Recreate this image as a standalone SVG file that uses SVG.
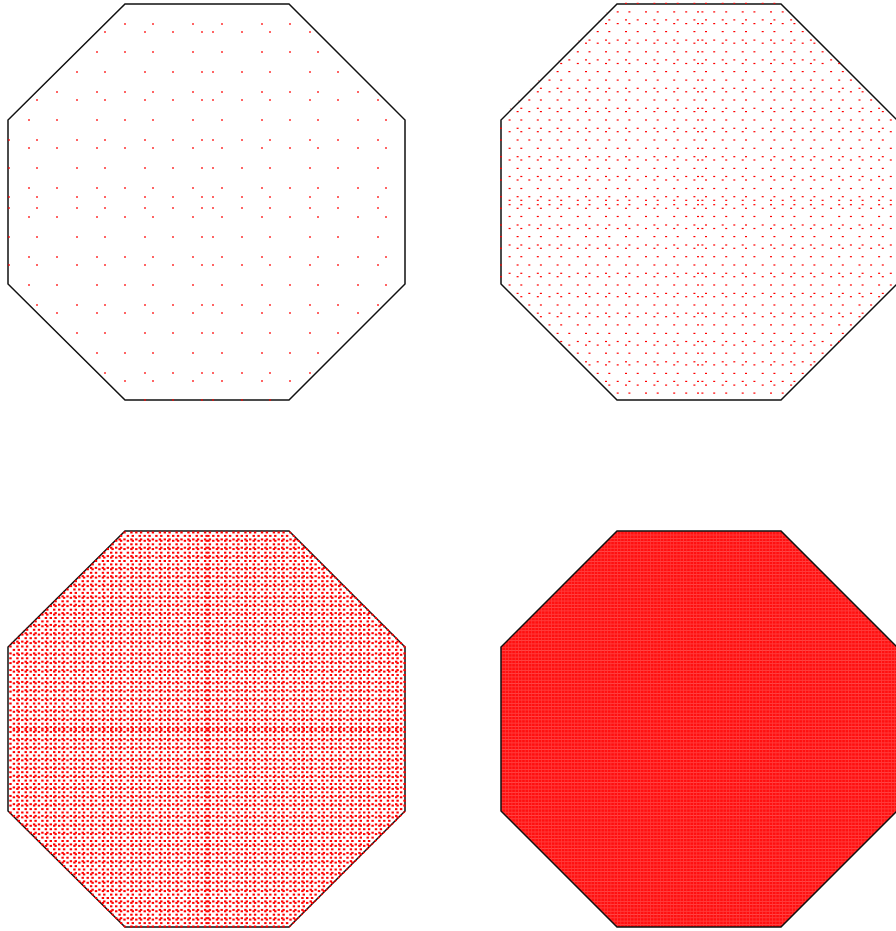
<svg xmlns="http://www.w3.org/2000/svg" xmlns:xlink="http://www.w3.org/1999/xlink" width="896" height="931" viewBox="0 0 896 931">
<style>
.oct{fill:none;stroke:#111;stroke-width:1.5}
.d rect{fill:#ff0000}
.e rect{fill:#ff0000}
</style>
<defs>
<clipPath id="c1"><polygon points="124.6,3 289.4,3 406,119.6 406,284.4 289.4,401 124.6,401 7,284.4 7,119.6"/></clipPath>
<clipPath id="c2"><polygon points="616.6,2.4 781.4,2.4 898,118.6 898,284.4 781.4,401 616.6,401 500,284.4 500,118.6"/></clipPath>
<clipPath id="c3"><polygon points="124.6,530.4 289.4,530.4 406,646.6 406,811.4 289.4,928 124.6,928 7,811.4 7,646.6"/></clipPath>
<g id="rA1" class="d">
<rect x="8" y="-0.6" width="2" height="1.2"/><rect x="36" y="-0.6" width="2" height="1.2"/><rect x="76" y="-0.6" width="2" height="1.2"/><rect x="104" y="-0.6" width="2" height="1.2"/><rect x="144" y="-0.6" width="2" height="1.2"/><rect x="172" y="-0.6" width="2" height="1.2"/><rect x="201" y="-0.6" width="2" height="1.2"/><rect x="212" y="-0.6" width="2" height="1.2"/><rect x="241" y="-0.6" width="2" height="1.2"/><rect x="269" y="-0.6" width="2" height="1.2"/><rect x="309" y="-0.6" width="2" height="1.2"/><rect x="337" y="-0.6" width="2" height="1.2"/><rect x="377" y="-0.6" width="2" height="1.2"/>
</g>
<g id="rB1" class="d">
<rect x="28" y="-0.6" width="2" height="1.2"/><rect x="56" y="-0.6" width="2" height="1.2"/><rect x="96" y="-0.6" width="2" height="1.2"/><rect x="124" y="-0.6" width="2" height="1.2"/><rect x="152" y="-0.6" width="2" height="1.2"/><rect x="192" y="-0.6" width="2" height="1.2"/><rect x="221" y="-0.6" width="2" height="1.2"/><rect x="261" y="-0.6" width="2" height="1.2"/><rect x="289" y="-0.6" width="2" height="1.2"/><rect x="317" y="-0.6" width="2" height="1.2"/><rect x="357" y="-0.6" width="2" height="1.2"/><rect x="385" y="-0.6" width="2" height="1.2"/>
</g>
<g id="rP2" class="d">
<rect x="499.9" y="-0.6" width="2" height="1.2"/><rect x="516.6" y="-0.6" width="2" height="1.2"/><rect x="528.3" y="-0.6" width="2" height="1.2"/><rect x="539.9" y="-0.6" width="2" height="1.2"/><rect x="556.6" y="-0.6" width="2" height="1.2"/><rect x="568.3" y="-0.6" width="2" height="1.2"/><rect x="585" y="-0.6" width="2" height="1.2"/><rect x="596.7" y="-0.6" width="2" height="1.2"/><rect x="608.3" y="-0.6" width="2" height="1.2"/><rect x="625" y="-0.6" width="2" height="1.2"/><rect x="636.7" y="-0.6" width="2" height="1.2"/><rect x="653.4" y="-0.6" width="2" height="1.2"/><rect x="665.1" y="-0.6" width="2" height="1.2"/><rect x="676.7" y="-0.6" width="2" height="1.2"/><rect x="693.4" y="-0.6" width="2" height="1.2"/><rect x="705" y="-0.6" width="2" height="1.2"/><rect x="721.7" y="-0.6" width="2" height="1.2"/><rect x="733.3" y="-0.6" width="2" height="1.2"/><rect x="745" y="-0.6" width="2" height="1.2"/><rect x="761.7" y="-0.6" width="2" height="1.2"/><rect x="773.4" y="-0.6" width="2" height="1.2"/><rect x="790.1" y="-0.6" width="2" height="1.2"/><rect x="801.7" y="-0.6" width="2" height="1.2"/><rect x="813.4" y="-0.6" width="2" height="1.2"/><rect x="830.1" y="-0.6" width="2" height="1.2"/><rect x="841.8" y="-0.6" width="2" height="1.2"/><rect x="858.5" y="-0.6" width="2" height="1.2"/><rect x="870.1" y="-0.6" width="2" height="1.2"/><rect x="881.8" y="-0.6" width="2" height="1.2"/>
</g>
<g id="rQ2" class="d">
<rect x="508.6" y="-0.6" width="2" height="1.2"/><rect x="520.3" y="-0.6" width="2" height="1.2"/><rect x="536.8" y="-0.6" width="2" height="1.2"/><rect x="548.5" y="-0.6" width="2" height="1.2"/><rect x="560.2" y="-0.6" width="2" height="1.2"/><rect x="576.8" y="-0.6" width="2" height="1.2"/><rect x="588.5" y="-0.6" width="2" height="1.2"/><rect x="605" y="-0.6" width="2" height="1.2"/><rect x="616.7" y="-0.6" width="2" height="1.2"/><rect x="628.4" y="-0.6" width="2" height="1.2"/><rect x="645" y="-0.6" width="2" height="1.2"/><rect x="656.7" y="-0.6" width="2" height="1.2"/><rect x="673.2" y="-0.6" width="2" height="1.2"/><rect x="685.2" y="-0.6" width="2" height="1.2"/><rect x="697" y="-0.6" width="2" height="1.2"/><rect x="701.4" y="-0.6" width="2" height="1.2"/><rect x="713.2" y="-0.6" width="2" height="1.2"/><rect x="725.2" y="-0.6" width="2" height="1.2"/><rect x="741.7" y="-0.6" width="2" height="1.2"/><rect x="753.4" y="-0.6" width="2" height="1.2"/><rect x="770" y="-0.6" width="2" height="1.2"/><rect x="781.7" y="-0.6" width="2" height="1.2"/><rect x="793.4" y="-0.6" width="2" height="1.2"/><rect x="809.9" y="-0.6" width="2" height="1.2"/><rect x="821.6" y="-0.6" width="2" height="1.2"/><rect x="838.2" y="-0.6" width="2" height="1.2"/><rect x="849.9" y="-0.6" width="2" height="1.2"/><rect x="861.6" y="-0.6" width="2" height="1.2"/><rect x="878.1" y="-0.6" width="2" height="1.2"/><rect x="889.8" y="-0.6" width="2" height="1.2"/>
</g>
<g id="rP3" class="e">
<rect x="9.3" y="-1" width="2.4" height="2"/><rect x="16.2" y="-1" width="2.4" height="2"/><rect x="21.1" y="-1" width="2.4" height="2"/><rect x="25.9" y="-1" width="2.4" height="2"/><rect x="32.9" y="-1" width="2.4" height="2"/><rect x="37.8" y="-1" width="2.4" height="2"/><rect x="44.7" y="-1" width="2.4" height="2"/><rect x="49.6" y="-1" width="2.4" height="2"/><rect x="54.4" y="-1" width="2.4" height="2"/><rect x="61.4" y="-1" width="2.4" height="2"/><rect x="66.3" y="-1" width="2.4" height="2"/><rect x="73.2" y="-1" width="2.4" height="2"/><rect x="78.1" y="-1" width="2.4" height="2"/><rect x="82.9" y="-1" width="2.4" height="2"/><rect x="89.9" y="-1" width="2.4" height="2"/><rect x="94.8" y="-1" width="2.4" height="2"/><rect x="101.7" y="-1" width="2.4" height="2"/><rect x="106.6" y="-1" width="2.4" height="2"/><rect x="111.4" y="-1" width="2.4" height="2"/><rect x="118.4" y="-1" width="2.4" height="2"/><rect x="123.3" y="-1" width="2.4" height="2"/><rect x="130.2" y="-1" width="2.4" height="2"/><rect x="135.1" y="-1" width="2.4" height="2"/><rect x="139.9" y="-1" width="2.4" height="2"/><rect x="146.9" y="-1" width="2.4" height="2"/><rect x="151.7" y="-1" width="2.4" height="2"/><rect x="158.7" y="-1" width="2.4" height="2"/><rect x="163.6" y="-1" width="2.4" height="2"/><rect x="168.4" y="-1" width="2.4" height="2"/><rect x="175.4" y="-1" width="2.4" height="2"/><rect x="180.3" y="-1" width="2.4" height="2"/><rect x="187.2" y="-1" width="2.4" height="2"/><rect x="192.1" y="-1" width="2.4" height="2"/><rect x="196.9" y="-1" width="2.4" height="2"/><rect x="203.9" y="-1" width="2.4" height="2"/>
<rect x="208.7" y="-1" width="2.4" height="2"/><rect x="215.7" y="-1" width="2.4" height="2"/><rect x="220.5" y="-1" width="2.4" height="2"/><rect x="225.4" y="-1" width="2.4" height="2"/><rect x="232.3" y="-1" width="2.4" height="2"/><rect x="237.2" y="-1" width="2.4" height="2"/><rect x="244.2" y="-1" width="2.4" height="2"/><rect x="249" y="-1" width="2.4" height="2"/><rect x="253.9" y="-1" width="2.4" height="2"/><rect x="260.8" y="-1" width="2.4" height="2"/><rect x="265.7" y="-1" width="2.4" height="2"/><rect x="272.7" y="-1" width="2.4" height="2"/><rect x="277.5" y="-1" width="2.4" height="2"/><rect x="282.4" y="-1" width="2.4" height="2"/><rect x="289.3" y="-1" width="2.4" height="2"/><rect x="294.2" y="-1" width="2.4" height="2"/><rect x="301.2" y="-1" width="2.4" height="2"/><rect x="306" y="-1" width="2.4" height="2"/><rect x="310.9" y="-1" width="2.4" height="2"/><rect x="317.8" y="-1" width="2.4" height="2"/><rect x="322.7" y="-1" width="2.4" height="2"/><rect x="329.7" y="-1" width="2.4" height="2"/><rect x="334.5" y="-1" width="2.4" height="2"/><rect x="339.4" y="-1" width="2.4" height="2"/><rect x="346.3" y="-1" width="2.4" height="2"/><rect x="351.2" y="-1" width="2.4" height="2"/><rect x="358.2" y="-1" width="2.4" height="2"/><rect x="363" y="-1" width="2.4" height="2"/><rect x="367.9" y="-1" width="2.4" height="2"/><rect x="374.8" y="-1" width="2.4" height="2"/><rect x="379.7" y="-1" width="2.4" height="2"/><rect x="386.7" y="-1" width="2.4" height="2"/><rect x="391.5" y="-1" width="2.4" height="2"/><rect x="396.4" y="-1" width="2.4" height="2"/><rect x="403.3" y="-1" width="2.4" height="2"/>
</g>
<g id="rQ3" class="e">
<rect x="12.7" y="-1" width="2.4" height="2"/><rect x="17.6" y="-1" width="2.4" height="2"/><rect x="24.5" y="-1" width="2.4" height="2"/><rect x="29.5" y="-1" width="2.4" height="2"/><rect x="34.4" y="-1" width="2.4" height="2"/><rect x="41.2" y="-1" width="2.4" height="2"/><rect x="46.1" y="-1" width="2.4" height="2"/><rect x="53" y="-1" width="2.4" height="2"/><rect x="58" y="-1" width="2.4" height="2"/><rect x="62.9" y="-1" width="2.4" height="2"/><rect x="69.7" y="-1" width="2.4" height="2"/><rect x="74.6" y="-1" width="2.4" height="2"/><rect x="81.5" y="-1" width="2.4" height="2"/><rect x="86.5" y="-1" width="2.4" height="2"/><rect x="91.4" y="-1" width="2.4" height="2"/><rect x="98.2" y="-1" width="2.4" height="2"/><rect x="103.1" y="-1" width="2.4" height="2"/><rect x="110" y="-1" width="2.4" height="2"/><rect x="115" y="-1" width="2.4" height="2"/><rect x="119.9" y="-1" width="2.4" height="2"/><rect x="126.7" y="-1" width="2.4" height="2"/><rect x="131.6" y="-1" width="2.4" height="2"/><rect x="138.5" y="-1" width="2.4" height="2"/><rect x="143.5" y="-1" width="2.4" height="2"/><rect x="148.4" y="-1" width="2.4" height="2"/><rect x="155.2" y="-1" width="2.4" height="2"/><rect x="160.1" y="-1" width="2.4" height="2"/><rect x="167" y="-1" width="2.4" height="2"/><rect x="172" y="-1" width="2.4" height="2"/><rect x="176.9" y="-1" width="2.4" height="2"/><rect x="183.7" y="-1" width="2.4" height="2"/><rect x="188.6" y="-1" width="2.4" height="2"/><rect x="195.5" y="-1" width="2.4" height="2"/><rect x="200.5" y="-1" width="2.4" height="2"/><rect x="205.4" y="-1" width="2.4" height="2"/>
<rect x="207.2" y="-1" width="2.4" height="2"/><rect x="212.1" y="-1" width="2.4" height="2"/><rect x="217.1" y="-1" width="2.4" height="2"/><rect x="224" y="-1" width="2.4" height="2"/><rect x="228.9" y="-1" width="2.4" height="2"/><rect x="235.7" y="-1" width="2.4" height="2"/><rect x="240.6" y="-1" width="2.4" height="2"/><rect x="245.6" y="-1" width="2.4" height="2"/><rect x="252.5" y="-1" width="2.4" height="2"/><rect x="257.4" y="-1" width="2.4" height="2"/><rect x="264.2" y="-1" width="2.4" height="2"/><rect x="269.1" y="-1" width="2.4" height="2"/><rect x="274.1" y="-1" width="2.4" height="2"/><rect x="281" y="-1" width="2.4" height="2"/><rect x="285.9" y="-1" width="2.4" height="2"/><rect x="292.7" y="-1" width="2.4" height="2"/><rect x="297.6" y="-1" width="2.4" height="2"/><rect x="302.6" y="-1" width="2.4" height="2"/><rect x="309.5" y="-1" width="2.4" height="2"/><rect x="314.4" y="-1" width="2.4" height="2"/><rect x="321.2" y="-1" width="2.4" height="2"/><rect x="326.1" y="-1" width="2.4" height="2"/><rect x="331.1" y="-1" width="2.4" height="2"/><rect x="338" y="-1" width="2.4" height="2"/><rect x="342.9" y="-1" width="2.4" height="2"/><rect x="349.7" y="-1" width="2.4" height="2"/><rect x="354.6" y="-1" width="2.4" height="2"/><rect x="359.6" y="-1" width="2.4" height="2"/><rect x="366.5" y="-1" width="2.4" height="2"/><rect x="371.4" y="-1" width="2.4" height="2"/><rect x="378.2" y="-1" width="2.4" height="2"/><rect x="383.1" y="-1" width="2.4" height="2"/><rect x="388.1" y="-1" width="2.4" height="2"/><rect x="395" y="-1" width="2.4" height="2"/><rect x="399.9" y="-1" width="2.4" height="2"/>
</g>
<pattern id="p4" patternUnits="userSpaceOnUse" x="0" y="0" width="3.3" height="3.3">
<rect x="0" y="0" width="3.3" height="3.3" fill="#ff1010"/>
<rect x="0" y="0" width="3.3" height="0.7" fill="#ff5050"/>
<rect x="0" y="0" width="0.7" height="3.3" fill="#ff3a3a"/>
</pattern>
</defs>

<g id="octagon-1">
<polygon class="oct" points="125,4 289,4 405,120 405,284 289,400 125,400 8,284 8,120"/>
<g clip-path="url(#c1)">
<use href="#rA1" y="32"/><use href="#rA1" y="72"/><use href="#rA1" y="100"/><use href="#rA1" y="140"/><use href="#rA1" y="168"/><use href="#rA1" y="197"/><use href="#rA1" y="208"/><use href="#rA1" y="237"/><use href="#rA1" y="265"/><use href="#rA1" y="305"/><use href="#rA1" y="333"/><use href="#rA1" y="373"/><use href="#rA1" y="400"/>
<use href="#rB1" y="24"/><use href="#rB1" y="52"/><use href="#rB1" y="92"/><use href="#rB1" y="120"/><use href="#rB1" y="148"/><use href="#rB1" y="188"/><use href="#rB1" y="217"/><use href="#rB1" y="257"/><use href="#rB1" y="285"/><use href="#rB1" y="313"/><use href="#rB1" y="353"/><use href="#rB1" y="381"/>
</g>
</g>

<g id="octagon-2">
<polygon class="oct" points="617,4 781,4 897,120 897,284 781,400 617,400 501,284 501,120"/>
<g clip-path="url(#c2)">
<use href="#rP2" y="3.2"/><use href="#rP2" y="19.9"/><use href="#rP2" y="31.6"/><use href="#rP2" y="43.2"/><use href="#rP2" y="59.9"/><use href="#rP2" y="71.6"/><use href="#rP2" y="88.3"/><use href="#rP2" y="100"/><use href="#rP2" y="111.6"/><use href="#rP2" y="128.3"/><use href="#rP2" y="140"/><use href="#rP2" y="156.7"/><use href="#rP2" y="168.4"/><use href="#rP2" y="180"/><use href="#rP2" y="196.7"/><use href="#rP2" y="208.3"/><use href="#rP2" y="225"/><use href="#rP2" y="236.6"/><use href="#rP2" y="248.3"/><use href="#rP2" y="265"/><use href="#rP2" y="276.7"/><use href="#rP2" y="293.4"/><use href="#rP2" y="305"/><use href="#rP2" y="316.7"/><use href="#rP2" y="333.4"/><use href="#rP2" y="345.1"/><use href="#rP2" y="361.8"/><use href="#rP2" y="373.4"/><use href="#rP2" y="385.1"/>
<use href="#rQ2" y="11.9"/><use href="#rQ2" y="23.6"/><use href="#rQ2" y="40.1"/><use href="#rQ2" y="51.8"/><use href="#rQ2" y="63.5"/><use href="#rQ2" y="80.1"/><use href="#rQ2" y="91.8"/><use href="#rQ2" y="108.3"/><use href="#rQ2" y="120"/><use href="#rQ2" y="131.7"/><use href="#rQ2" y="148.3"/><use href="#rQ2" y="160"/><use href="#rQ2" y="176.5"/><use href="#rQ2" y="188.5"/><use href="#rQ2" y="200.3"/><use href="#rQ2" y="204.7"/><use href="#rQ2" y="216.5"/><use href="#rQ2" y="228.5"/><use href="#rQ2" y="245"/><use href="#rQ2" y="256.7"/><use href="#rQ2" y="273.3"/><use href="#rQ2" y="285"/><use href="#rQ2" y="296.7"/><use href="#rQ2" y="313.2"/><use href="#rQ2" y="324.9"/><use href="#rQ2" y="341.5"/><use href="#rQ2" y="353.2"/><use href="#rQ2" y="364.9"/><use href="#rQ2" y="381.4"/><use href="#rQ2" y="393.1"/>
</g>
</g>

<g id="octagon-3">
<polygon class="oct" points="125,531 289,531 405,647 405,811 289,927 125,927 8,811 8,647"/>
<g clip-path="url(#c3)">
<use href="#rP3" y="532.5"/><use href="#rP3" y="539.4"/><use href="#rP3" y="544.3"/><use href="#rP3" y="549.1"/><use href="#rP3" y="556.1"/><use href="#rP3" y="561"/><use href="#rP3" y="567.9"/><use href="#rP3" y="572.8"/><use href="#rP3" y="577.6"/><use href="#rP3" y="584.6"/><use href="#rP3" y="589.5"/><use href="#rP3" y="596.4"/><use href="#rP3" y="601.3"/><use href="#rP3" y="606.1"/><use href="#rP3" y="613.1"/><use href="#rP3" y="618"/><use href="#rP3" y="624.9"/><use href="#rP3" y="629.8"/><use href="#rP3" y="634.6"/><use href="#rP3" y="641.6"/><use href="#rP3" y="646.5"/><use href="#rP3" y="653.4"/><use href="#rP3" y="658.3"/><use href="#rP3" y="663.1"/><use href="#rP3" y="670.1"/><use href="#rP3" y="675"/><use href="#rP3" y="681.9"/><use href="#rP3" y="686.8"/><use href="#rP3" y="691.6"/><use href="#rP3" y="698.6"/><use href="#rP3" y="703.5"/><use href="#rP3" y="710.4"/><use href="#rP3" y="715.3"/><use href="#rP3" y="720.1"/><use href="#rP3" y="727.1"/>
<use href="#rP3" y="731.9"/><use href="#rP3" y="738.9"/><use href="#rP3" y="743.7"/><use href="#rP3" y="748.6"/><use href="#rP3" y="755.5"/><use href="#rP3" y="760.4"/><use href="#rP3" y="767.4"/><use href="#rP3" y="772.2"/><use href="#rP3" y="777.1"/><use href="#rP3" y="784"/><use href="#rP3" y="788.9"/><use href="#rP3" y="795.9"/><use href="#rP3" y="800.7"/><use href="#rP3" y="805.6"/><use href="#rP3" y="812.5"/><use href="#rP3" y="817.4"/><use href="#rP3" y="824.4"/><use href="#rP3" y="829.2"/><use href="#rP3" y="834.1"/><use href="#rP3" y="841"/><use href="#rP3" y="845.9"/><use href="#rP3" y="852.9"/><use href="#rP3" y="857.7"/><use href="#rP3" y="862.6"/><use href="#rP3" y="869.5"/><use href="#rP3" y="874.4"/><use href="#rP3" y="881.4"/><use href="#rP3" y="886.2"/><use href="#rP3" y="891.1"/><use href="#rP3" y="898"/><use href="#rP3" y="902.9"/><use href="#rP3" y="909.9"/><use href="#rP3" y="914.7"/><use href="#rP3" y="919.6"/><use href="#rP3" y="926.5"/>
<use href="#rQ3" y="535.9"/><use href="#rQ3" y="540.8"/><use href="#rQ3" y="547.7"/><use href="#rQ3" y="552.7"/><use href="#rQ3" y="557.6"/><use href="#rQ3" y="564.4"/><use href="#rQ3" y="569.3"/><use href="#rQ3" y="576.2"/><use href="#rQ3" y="581.2"/><use href="#rQ3" y="586.1"/><use href="#rQ3" y="592.9"/><use href="#rQ3" y="597.8"/><use href="#rQ3" y="604.7"/><use href="#rQ3" y="609.7"/><use href="#rQ3" y="614.6"/><use href="#rQ3" y="621.4"/><use href="#rQ3" y="626.3"/><use href="#rQ3" y="633.2"/><use href="#rQ3" y="638.2"/><use href="#rQ3" y="643.1"/><use href="#rQ3" y="649.9"/><use href="#rQ3" y="654.8"/><use href="#rQ3" y="661.7"/><use href="#rQ3" y="666.7"/><use href="#rQ3" y="671.6"/><use href="#rQ3" y="678.4"/><use href="#rQ3" y="683.3"/><use href="#rQ3" y="690.2"/><use href="#rQ3" y="695.2"/><use href="#rQ3" y="700.1"/><use href="#rQ3" y="706.9"/><use href="#rQ3" y="711.8"/><use href="#rQ3" y="718.7"/><use href="#rQ3" y="723.7"/><use href="#rQ3" y="728.6"/>
<use href="#rQ3" y="730.4"/><use href="#rQ3" y="735.3"/><use href="#rQ3" y="740.3"/><use href="#rQ3" y="747.2"/><use href="#rQ3" y="752.1"/><use href="#rQ3" y="758.9"/><use href="#rQ3" y="763.8"/><use href="#rQ3" y="768.8"/><use href="#rQ3" y="775.7"/><use href="#rQ3" y="780.6"/><use href="#rQ3" y="787.4"/><use href="#rQ3" y="792.3"/><use href="#rQ3" y="797.3"/><use href="#rQ3" y="804.2"/><use href="#rQ3" y="809.1"/><use href="#rQ3" y="815.9"/><use href="#rQ3" y="820.8"/><use href="#rQ3" y="825.8"/><use href="#rQ3" y="832.7"/><use href="#rQ3" y="837.6"/><use href="#rQ3" y="844.4"/><use href="#rQ3" y="849.3"/><use href="#rQ3" y="854.3"/><use href="#rQ3" y="861.2"/><use href="#rQ3" y="866.1"/><use href="#rQ3" y="872.9"/><use href="#rQ3" y="877.8"/><use href="#rQ3" y="882.8"/><use href="#rQ3" y="889.7"/><use href="#rQ3" y="894.6"/><use href="#rQ3" y="901.4"/><use href="#rQ3" y="906.3"/><use href="#rQ3" y="911.3"/><use href="#rQ3" y="918.2"/><use href="#rQ3" y="923.1"/>
</g>
</g>

<g id="octagon-4">
<polygon points="617,531 781,531 897,647 897,811 781,927 617,927 501,811 501,647" fill="url(#p4)"/>
<polygon class="oct" points="617,531 781,531 897,647 897,811 781,927 617,927 501,811 501,647"/>
</g>
</svg>
